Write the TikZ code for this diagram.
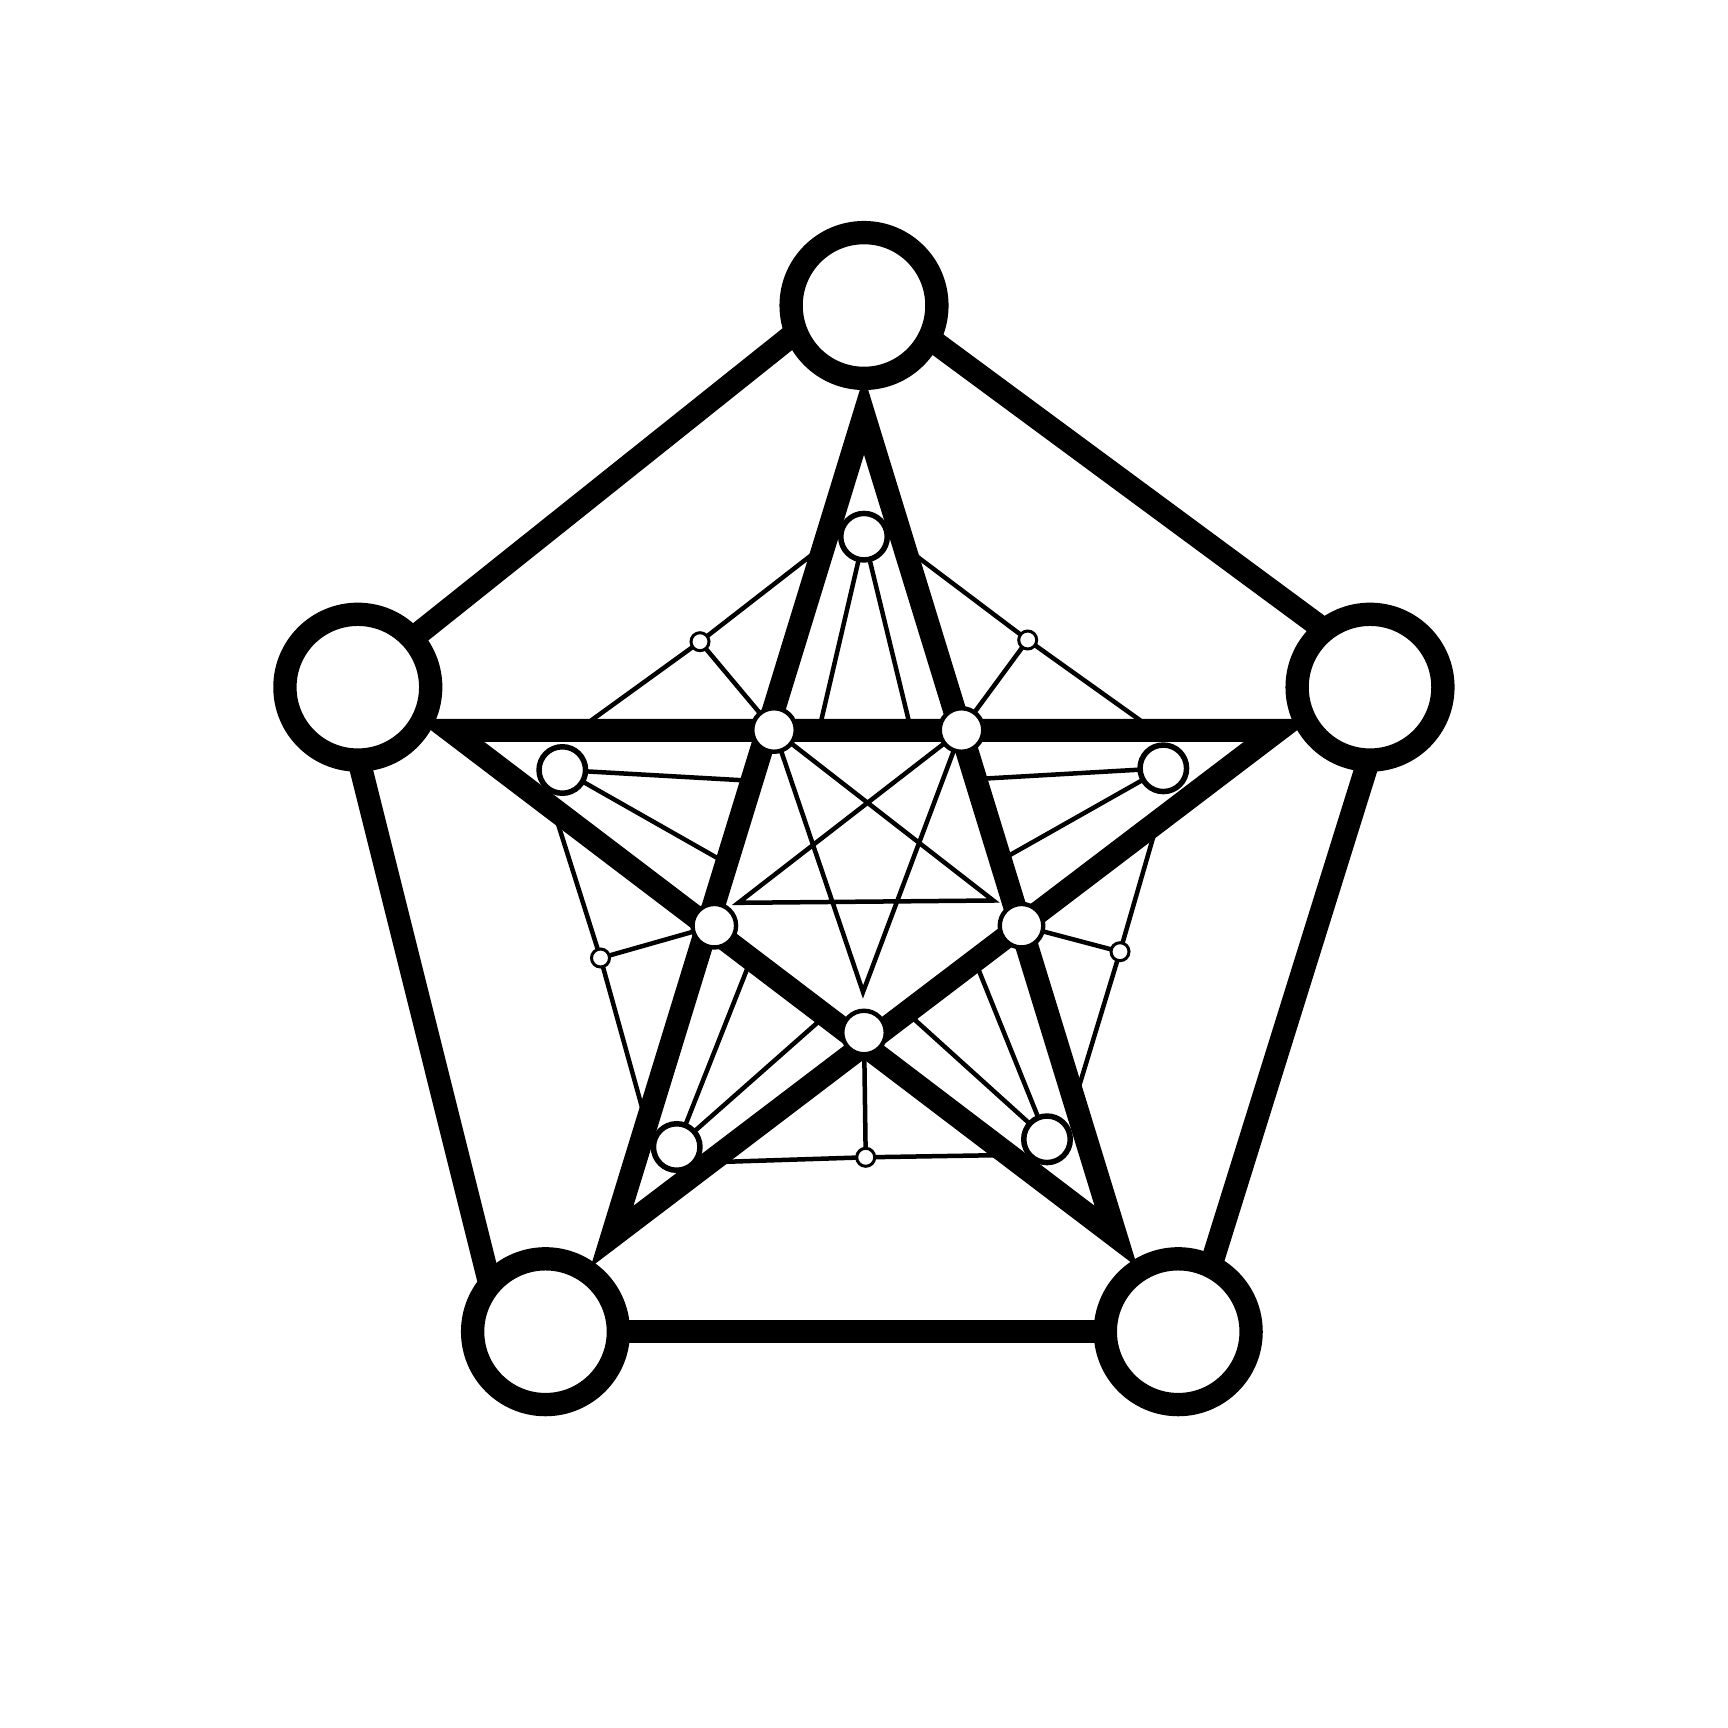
\documentclass[tikz,border=0pt]{standalone}
\pgfdeclarelayer{edges}
\pgfsetlayers{edges,main}
\begin{document}
\begin{tikzpicture}[x=0.01cm,y=-0.01cm,
  bignode/.style={circle,draw=black,fill=white,line width=6.63pt,minimum size=1.457cm,inner sep=0pt,outer sep=0pt},
  spikenode/.style={circle,draw=black,fill=white,line width=1.56pt,minimum size=0.465cm,inner sep=0pt,outer sep=0pt},
  innernode/.style={circle,draw=black,fill=white,line width=1.25pt,minimum size=0.435cm,inner sep=0pt,outer sep=0pt},
  smallnode/.style={circle,draw=black,fill=white,line width=0.85pt,minimum size=0.18cm,inner sep=0pt,outer sep=0pt},
  heavyline/.style={line width=6.54pt,line join=miter},
  fineline/.style={line width=1.28pt,line join=miter}]
\useasboundingbox (0,0) rectangle (1728,1728);
% nodes
\node[bignode] (T0) at (864,305.5) {};
\node[bignode] (L0) at (357.8,687.2) {};
\node[bignode] (R0) at (1370,687.2) {};
\node[bignode] (BL0) at (545.5,1331.7) {};
\node[bignode] (BR0) at (1178.2,1331.7) {};
\node[spikenode] (M1) at (864,536.7) {};
\node[innernode] (M2) at (774,730) {};
\node[innernode] (M3) at (961.5,730) {};
\node[spikenode] (M4) at (562.3,770) {};
\node[spikenode] (M5) at (1163.3,768.3) {};
\node[innernode] (M6) at (714.3,925.7) {};
\node[innernode] (M7) at (1021.5,925.7) {};
\node[innernode] (M8) at (864,1032.5) {};
\node[spikenode] (M9) at (676.7,1147) {};
\node[spikenode] (M10) at (1047,1139.3) {};
\node[smallnode] (s1) at (700,641.7) {};
\node[smallnode] (s2) at (1027.7,640) {};
\node[smallnode] (s3) at (600.5,958) {};
\node[smallnode] (s4) at (1120,951.7) {};
\node[smallnode] (s5) at (865.7,1157.3) {};
% coordinates
\coordinate (PT) at (864,415.5);
\coordinate (PL) at (450,730.3);
\coordinate (PR) at (1278,730.3);
\coordinate (PBL) at (612,1236.5);
\coordinate (PBR) at (1116,1236.5);
\coordinate (tl1) at (357.8,682);
\coordinate (tl2) at (864,278);
\coordinate (tr1) at (864,290.1);
\coordinate (tr2) at (1370,663.6);
\coordinate (le1) at (340.6,687.2);
\coordinate (le2) at (501.7,1331.7);
\coordinate (re1) at (1391.4,687.2);
\coordinate (re2) at (1190.3,1331.7);
\coordinate (SB) at (863,992);
\coordinate (SL) at (738.4,902.8);
\coordinate (SR) at (993.3,900.5);
\coordinate (m1a) at (819,730);
\coordinate (m1b) at (911,730);
\coordinate (s1a) at (578,730);
\coordinate (s1b) at (824.2,545.2);
\coordinate (s2a) at (1153.7,730);
\coordinate (s2b) at (904.4,547);
\coordinate (m4a) at (752,780.8);
\coordinate (m4b) at (726.6,863.3);
\coordinate (m5a) at (975.6,779.1);
\coordinate (m5b) at (1000.6,860.3);
\coordinate (s3a) at (553.2,808.8);
\coordinate (s3b) at (646.6,1123.8);
\coordinate (s4a) at (1157.6,821.9);
\coordinate (s4b) at (1074.5,1101.3);
\coordinate (s5a) at (709.7,1162.3);
\coordinate (s5b) at (1008.8,1155);
\coordinate (m9a) at (751,959.2);
\coordinate (m9b) at (825.3,1015.7);
\coordinate (m10a) at (974.9,960.7);
\coordinate (m10b) at (906.7,1012.5);
\begin{pgfonlayer}{edges}
\fill[white] (0,0) rectangle (1728,1728);
% thin lines
\draw[fineline] (M1.center) -- (m1a);
\draw[fineline] (M1.center) -- (m1b);
\draw[fineline] (s1a) -- (s1.center) -- (s1b);
\draw[fineline] (s1.center) -- (M2.center);
\draw[fineline] (s2a) -- (s2.center) -- (s2b);
\draw[fineline] (s2.center) -- (M3.center);
\draw[fineline] (M4.center) -- (m4a);
\draw[fineline] (M4.center) -- (m4b);
\draw[fineline] (M5.center) -- (m5a);
\draw[fineline] (M5.center) -- (m5b);
\draw[fineline] (s3a) -- (s3.center) -- (s3b);
\draw[fineline] (s3.center) -- (M6.center);
\draw[fineline] (s4a) -- (s4.center) -- (s4b);
\draw[fineline] (s4.center) -- (M7.center);
\draw[fineline] (s5a) -- (s5.center) -- (s5b);
\draw[fineline] (s5.center) -- (M8.center);
\draw[fineline] (M9.center) -- (m9a);
\draw[fineline] (M9.center) -- (m9b);
\draw[fineline] (M10.center) -- (m10a);
\draw[fineline] (M10.center) -- (m10b);
\draw[fineline] (M2.center) -- (SB) -- (M3.center) -- (SL) -- (SR) -- cycle;
% thick lines
\draw[heavyline] (tl1) -- (tl2);
\draw[heavyline] (tr1) -- (tr2);
\draw[heavyline] (le1) -- (le2);
\draw[heavyline] (re1) -- (re2);
\draw[heavyline] (BL0) -- (BR0);
\draw[heavyline] (PT) -- (PBL) -- (PR) -- (PL) -- (PBR) -- cycle;
\end{pgfonlayer}
\end{tikzpicture}
\end{document}
